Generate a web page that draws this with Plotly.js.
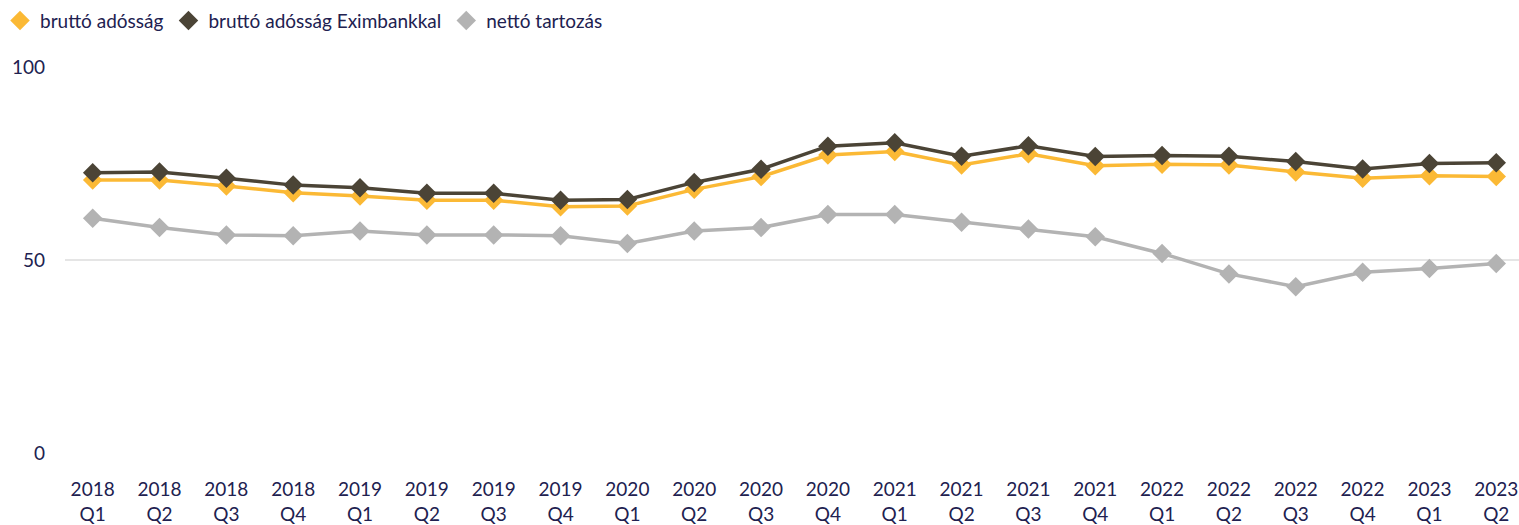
<!DOCTYPE html>
<html>
<head>
<meta charset="utf-8">
<script src="https://cdn.plot.ly/plotly-3.0.1.min.js"></script>
<style>html,body{margin:0;padding:0;background:#fff;}#chart{width:1519px;height:525px;}</style>
</head>
<body>
<div id="chart"></div>
<script>
const categories = ["2018<br>Q1","2018<br>Q2","2018<br>Q3","2018<br>Q4","2019<br>Q1","2019<br>Q2","2019<br>Q3","2019<br>Q4","2020<br>Q1","2020<br>Q2","2020<br>Q3","2020<br>Q4","2021<br>Q1","2021<br>Q2","2021<br>Q3","2021<br>Q4","2022<br>Q1","2022<br>Q2","2022<br>Q3","2022<br>Q4","2023<br>Q1","2023<br>Q2"];
const seriesNames = ["bruttó adósság","bruttó adósság Eximbankkal","nettó tartozás"];
const bruttoAdossag = [70.7,70.7,69.2,67.4,66.6,65.5,65.5,63.8,64.0,68.3,71.6,77.2,78.1,74.6,77.5,74.4,74.8,74.6,72.8,71.2,71.8,71.6];
const bruttoExim = [72.6,72.8,71.2,69.4,68.7,67.3,67.3,65.5,65.7,70.1,73.5,79.5,80.4,76.9,79.6,76.8,77.1,76.9,75.5,73.6,75.0,75.2];
const nettoTartozas = [60.8,58.4,56.5,56.3,57.5,56.5,56.5,56.3,54.3,57.5,58.4,61.8,61.8,59.8,58.0,56.0,51.7,46.4,43.1,46.8,47.8,49.1];
const yTicks = [0,50,100];

const colors = ["#FBB935","#4B4436","#B3B3B3"];
const values = [bruttoAdossag, bruttoExim, nettoTartozas];
const txt = "#212150";
const font = "Lato, 'Open Sans', sans-serif";

const traces = [];
[2,0,1].forEach(i => {
  traces.push({
    x: categories, y: values[i], type: "scatter", mode: "lines+markers",
    name: seriesNames[i], legendgroup: "g"+i, showlegend: false,
    line: {color: colors[i], width: 3.5},
    marker: {symbol: "diamond", size: 15, color: colors[i]},
    cliponaxis: false, hoverinfo: "x+y"
  });
});
[0,1,2].forEach(i => {
  traces.push({
    x: [null], y: [null], type: "scatter", mode: "markers",
    name: seriesNames[i], legendgroup: "g"+i, showlegend: true,
    marker: {symbol: "diamond", size: 15, color: colors[i]}
  });
});

const layout = {
  width: 1519, height: 525,
  margin: {l: 65, r: 0, t: 67, b: 72},
  paper_bgcolor: "#fff", plot_bgcolor: "#fff",
  font: {family: font, color: txt, size: 19},
  showlegend: true,
  legend: {orientation: "h", x: -0.001, xref: "container", y: 0.997, yref: "container", xanchor: "left", yanchor: "top",
    font: {family: font, size: 19, color: txt}, itemwidth: 30, tracegroupgap: 0, traceorder: "normal"},
  xaxis: {
    type: "category", range: [-0.414, 21.34], showgrid: false, zeroline: false, showline: false,
    ticks: "", tickfont: {family: font, size: 19, color: txt}, ticklabelstandoff: 23, tickangle: 0
  },
  yaxis: {
    range: [0, 100], tickvals: yTicks, ticktext: yTicks.map(String),
    showgrid: true, gridcolor: "#E5E5E5", gridwidth: 2, zeroline: false, showline: false,
    ticks: "", tickfont: {family: font, size: 19, color: txt}, ticklabelstandoff: 19
  }
};

Plotly.newPlot("chart", traces, layout, {displayModeBar: false, staticPlot: true});
</script>
</body>
</html>
